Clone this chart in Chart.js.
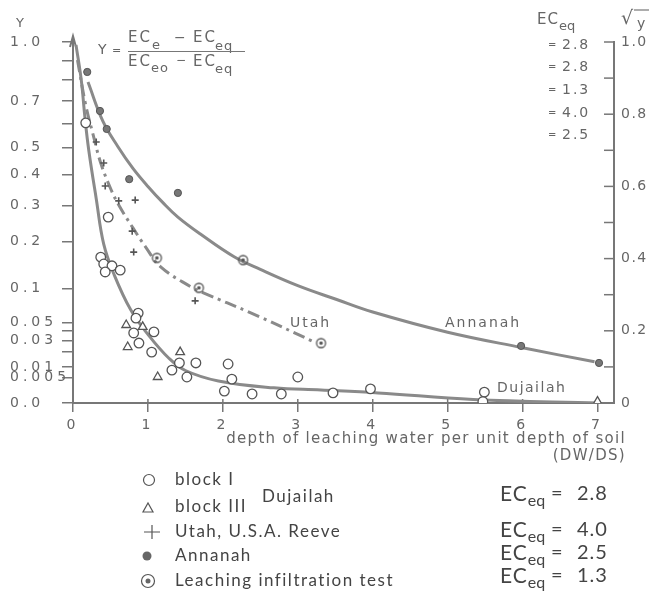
<!DOCTYPE html>
<html><head><meta charset="utf-8">
<script src="https://cdn.jsdelivr.net/npm/chart.js@4/dist/chart.umd.min.js"></script>
<style>html,body{margin:0;padding:0;background:#fff}#wrap{width:649px;height:598px}</style>
</head><body><div id="wrap"><canvas id="c" width="649" height="598"></canvas></div>
<script>
// x = depth of leaching water per unit depth of soil (DW/DS), s = sqrt(Y) (right axis reading)
const blockIX = [0.17,0.47,0.37,0.41,0.52,0.43,0.63,0.87,0.84,0.81,1.08,0.88,1.05,1.42,1.32,1.64,1.52,2.07,2.12,2.02,2.39,2.78,3.00,3.47,3.97,5.49,5.47];
const blockIS = [0.776,0.515,0.404,0.385,0.380,0.363,0.368,0.249,0.235,0.194,0.197,0.166,0.141,0.111,0.091,0.111,0.072,0.108,0.066,0.033,0.025,0.025,0.072,0.028,0.039,0.030,0.004];
const blockIIIX = [0.71,0.93,0.73,1.43,1.13,7.00];
const blockIIIS = [0.216,0.211,0.155,0.141,0.072,0.004];
const utahX = [0.31,0.41,0.43,0.61,0.83,0.79,0.81,1.63];
const utahS = [0.723,0.665,0.601,0.560,0.562,0.476,0.418,0.283];
const annanahX = [0.19,0.36,0.45,0.75,1.40,5.98,7.02];
const annanahS = [0.917,0.809,0.759,0.620,0.582,0.158,0.111];
const leachX = [1.12,1.68,3.31,2.27];
const leachS = [0.402,0.319,0.166,0.396];
// fitted curves
const annCurveX = [0.20,0.40,0.60,0.80,1.00,1.20,1.40,1.70,2.15,2.50,3.00,3.50,4.00,5.00,6.00,6.96];
const annCurveS = [0.889,0.780,0.710,0.650,0.600,0.555,0.515,0.468,0.405,0.370,0.325,0.288,0.252,0.196,0.153,0.114];
const utahCurveX = [0.06,0.17,0.27,0.37,0.51,0.62,0.80,0.97,1.17,1.58,1.74,2.38,3.22];
const utahCurveS = [0.950,0.825,0.742,0.665,0.590,0.545,0.485,0.432,0.377,0.321,0.305,0.249,0.169];
const dujCurveX = [0.04,0.11,0.16,0.21,0.31,0.41,0.55,0.77,1.00,1.28,1.50,1.94,2.68,3.31,4.07,5.34,7.01];
const dujCurveS = [0.992,0.895,0.789,0.701,0.566,0.440,0.355,0.258,0.190,0.124,0.090,0.061,0.042,0.036,0.028,0.010,0.0];
// axes
const xTicks = [0,1,2,3,4,5,6,7];
const leftTickY = [1.0,0.9,0.8,0.7,0.6,0.5,0.4,0.3,0.2,0.1,0.05,0.04,0.03,0.02,0.01,0.005,0];
const leftLabels = ['1.0','','','0.7','','0.5','0.4','0.3','0.2','0.1','0.05','','0.03','','0.01','0.005','0.0'];
const rightTicks = [1.0,0.9,0.8,0.7,0.6,0.5,0.4,0.3,0.2,0.1,0];
const rightLabels = ['1.0','','0.8','','0.6','','0.4','','0.2','','0'];
const topEcValues = ['2.8','2.8','1.3','4.0','2.5'];
const legendLabels = ['block I','block III','Utah, U.S.A. Reeve','Annanah','Leaching infiltration test'];
const legendEc = ['2.8','4.0','2.5','1.3'];
const curveNames = ['Utah','Annanah','Dujailah'];

const pts = (xs, ss) => xs.map((v, i) => ({x: v, y: ss[i]}));
const GRAY = '#666';

function makeDotCircle(r) {
  const c = document.createElement('canvas');
  const s = Math.ceil(r * 2 + 4);
  c.width = s; c.height = s;
  const g = c.getContext('2d');
  g.strokeStyle = '#555'; g.lineWidth = 1.3;
  g.beginPath(); g.arc(s/2, s/2, r, 0, Math.PI*2); g.stroke();
  g.fillStyle = '#555';
  g.beginPath(); g.arc(s/2, s/2, r*0.4, 0, Math.PI*2); g.fill();
  return c;
}
const dotCircle = makeDotCircle(4.5);

function txt(ctx, s, x, y, o) {
  ctx.save();
  ctx.font = o.font || '14px "DejaVu Sans"';
  ctx.fillStyle = o.color || GRAY;
  ctx.textAlign = o.align || 'left';
  ctx.textBaseline = o.baseline || 'middle';
  ctx.letterSpacing = (o.ls || 0) + 'px';
  ctx.fillText(s, x, y);
  const w = ctx.measureText(s).width;
  ctx.restore();
  return w;
}

const annot = {
  id: 'annot',
  beforeDraw(chart) { chart.ctx.letterSpacing = '4px'; },
  beforeDatasetsDraw(chart) {
    const ctx = chart.ctx;
    ctx.letterSpacing = '0px';
    const y2 = chart.scales.y2, x = chart.scales.x;
    ctx.save();
    ctx.strokeStyle = '#777'; ctx.lineWidth = 1.5;
    rightTicks.forEach(v => {
      const py = y2.getPixelForValue(v);
      ctx.beginPath(); ctx.moveTo(x.right - 10, py); ctx.lineTo(x.right, py); ctx.stroke();
    });
    xTicks.forEach(v => {
      const px = x.getPixelForValue(v);
      ctx.beginPath(); ctx.moveTo(px, y2.bottom - 4); ctx.lineTo(px, y2.bottom); ctx.stroke();
    });
    const ax = x.left;
    ctx.lineWidth = 2;
    ctx.beginPath(); ctx.moveTo(ax - 3, 47); ctx.lineTo(ax, 36); ctx.lineTo(ax + 3, 47); ctx.stroke();
    ctx.beginPath(); ctx.moveTo(ax, 36); ctx.lineTo(ax, 44); ctx.stroke();
    ctx.restore();
  },
  afterDraw(chart) {
    const ctx = chart.ctx;
    const y2 = chart.scales.y2;
    const F = (s) => s + 'px "DejaVu Sans"';
    // right axis labels
    rightTicks.forEach((v, i) => {
      if (rightLabels[i]) txt(ctx, rightLabels[i], 621, y2.getPixelForValue(v), {font: F(14), ls: 1.5});
    });
    // Y label
    txt(ctx, 'Y', 16, 24, {font: F(13)});
    // formula
    txt(ctx, 'Y', 98, 50, {font: F(14)});
    txt(ctx, '=', 112, 51, {font: F(11)});
    txt(ctx, 'EC', 128, 38, {font: F(15), ls: 2});
    txt(ctx, 'e', 152, 46, {font: F(13), ls: 1});
    txt(ctx, '\u2212', 174, 38, {font: F(14)});
    txt(ctx, 'EC', 193, 38, {font: F(15), ls: 2});
    txt(ctx, 'eq', 215, 47, {font: F(13), ls: 1});
    ctx.save(); ctx.strokeStyle = '#777'; ctx.lineWidth = 1;
    ctx.beginPath(); ctx.moveTo(128, 51.5); ctx.lineTo(245, 51.5); ctx.stroke(); ctx.restore();
    txt(ctx, 'EC', 128, 62, {font: F(15), ls: 2});
    txt(ctx, 'eo', 151, 69, {font: F(13), ls: 1});
    txt(ctx, '\u2212', 176, 61, {font: F(12)});
    txt(ctx, 'EC', 193, 62, {font: F(15), ls: 2});
    txt(ctx, 'eq', 215, 70, {font: F(13), ls: 1});
    // top right EC_eq list
    const wEC = txt(ctx, 'EC', 537, 20, {font: F(15), ls: 1});
    txt(ctx, 'eq', 537 + wEC, 27, {font: F(13)});
    topEcValues.forEach((v, i) => {
      const yy = [45, 67, 90, 113, 135][i];
      txt(ctx, '=', 548, yy, {font: F(10)});
      txt(ctx, v, 562, yy, {font: F(14), ls: 2});
    });
    // sqrt y
    txt(ctx, '\u221A', 621, 19, {font: F(19)});
    txt(ctx, 'y', 637, 24, {font: F(14)});
    ctx.save(); ctx.strokeStyle = '#777'; ctx.lineWidth = 1.2;
    ctx.beginPath(); ctx.moveTo(634, 10); ctx.lineTo(650, 10); ctx.stroke(); ctx.restore();
    // curve names
    txt(ctx, curveNames[0], 290, 323, {font: F(14), ls: 2});
    txt(ctx, curveNames[1], 445, 323, {font: F(14), ls: 2});
    txt(ctx, curveNames[2], 497, 388, {font: F(14), ls: 1.5});
    // x title
    txt(ctx, 'depth of leaching water per unit depth of soil', 626, 439, {font: F(15), align: 'right', ls: 1.3});
    txt(ctx, '(DW/DS)', 626, 456, {font: F(15), align: 'right', ls: 1.3});
    // legend
    const LF = '17px Lato', LC = '#444';
    const rows = [480, 507, 532, 556, 581];
    legendLabels.forEach((s, i) => txt(ctx, s, 175, rows[i], {font: LF, color: LC, ls: 1.5}));
    txt(ctx, 'Dujailah', 262, 497, {font: LF, color: LC, ls: 1.5});
    ctx.save();
    ctx.strokeStyle = '#555'; ctx.fillStyle = '#666'; ctx.lineWidth = 1.2;
    ctx.beginPath(); ctx.arc(149, 480, 5.5, 0, Math.PI*2); ctx.stroke();
    ctx.beginPath(); ctx.moveTo(143, 512); ctx.lineTo(153, 512); ctx.lineTo(148, 503); ctx.closePath(); ctx.stroke();
    ctx.beginPath(); ctx.moveTo(144, 532); ctx.lineTo(160, 532); ctx.moveTo(152, 525); ctx.lineTo(152, 539); ctx.stroke();
    ctx.beginPath(); ctx.arc(147, 556, 4.5, 0, Math.PI*2); ctx.fill();
    ctx.beginPath(); ctx.arc(148, 581, 6.5, 0, Math.PI*2); ctx.stroke();
    ctx.beginPath(); ctx.arc(148, 581, 2.5, 0, Math.PI*2); ctx.fill();
    ctx.restore();
    const ecRows = [494, 530, 553, 576];
    legendEc.forEach((v, i) => {
      const yy = ecRows[i];
      const w = txt(ctx, 'EC', 500, yy, {font: '21px Lato', color: LC, ls: 1});
      txt(ctx, 'eq', 500 + w, yy + 7, {font: '16px Lato', color: LC});
      txt(ctx, '=', 551, yy, {font: '20px Lato', color: LC});
      txt(ctx, v, 577, yy, {font: '20px Lato', color: LC, ls: 1});
    });
  }
};

const lineDs = (xs, ss, dash) => ({
  type: 'scatter', data: pts(xs, ss), showLine: true, pointRadius: 0,
  borderColor: '#8a8a8a', borderWidth: 3, borderDash: dash || [],
  tension: 0.4, order: 2
});

new Chart(document.getElementById('c'), {
  type: 'scatter',
  data: {
    datasets: [
      lineDs(annCurveX, annCurveS),
      lineDs(utahCurveX, utahCurveS, [12, 5, 3, 5]),
      lineDs(dujCurveX, dujCurveS),
      {label: 'block I', data: pts(blockIX, blockIS), pointStyle: 'circle', pointRadius: 4.8,
       backgroundColor: '#fff', borderColor: '#555', borderWidth: 1.3, order: 1},
      {label: 'block III', data: pts(blockIIIX, blockIIIS), pointStyle: 'triangle', pointRadius: 5,
       backgroundColor: '#fff', borderColor: '#555', borderWidth: 1.3, order: 1},
      {label: 'Utah, U.S.A. Reeve', data: pts(utahX, utahS), pointStyle: 'cross', pointRadius: 3.5,
       borderColor: '#555', borderWidth: 1.6, order: 1},
      {label: 'Annanah', data: pts(annanahX, annanahS), pointStyle: 'circle', pointRadius: 3.6,
       backgroundColor: '#777', borderColor: '#555', borderWidth: 1, order: 1},
      {label: 'Leaching infiltration test', data: pts(leachX, leachS), pointStyle: dotCircle, order: 1}
    ]
  },
  options: {
    responsive: false, animation: false, devicePixelRatio: 1,
    layout: {padding: {left: 10, right: 0, top: 42, bottom: 0}},
    plugins: {legend: {display: false}, tooltip: {enabled: false}},
    scales: {
      x: {
        type: 'linear', min: 0, max: 7.22, position: 'bottom',
        afterBuildTicks: s => { s.ticks = xTicks.map(v => ({value: v})); },
        afterFit: s => { s.height = 195; },
        ticks: {autoSkip: false, maxRotation: 0, padding: 5, color: GRAY,
                font: {family: 'DejaVu Sans', size: 14}, callback: v => String(v)},
        grid: {drawOnChartArea: false, tickLength: 9, color: '#777', lineWidth: 1.5},
        border: {color: '#777', width: 2}
      },
      y: {
        type: 'linear', min: 0, max: 1, position: 'left',
        afterBuildTicks: s => { s.ticks = leftTickY.map(v => ({value: Math.sqrt(v)})); },
        afterFit: s => { s.width = 63; },
        ticks: {autoSkip: false, crossAlign: 'far', color: GRAY,
                font: {family: 'DejaVu Sans', size: 14}, callback: (v, i) => leftLabels[i]},
        grid: {drawOnChartArea: false, tickLength: 11, color: '#777', lineWidth: 1.5},
        border: {color: '#777', width: 2}
      },
      y2: {
        type: 'linear', min: 0, max: 1, position: 'right',
        afterBuildTicks: s => { s.ticks = rightTicks.map(v => ({value: v})); },
        afterFit: s => { s.width = 35; },
        ticks: {display: false},
        grid: {display: true, drawOnChartArea: false, drawTicks: false, tickLength: 0},
        border: {color: '#777', width: 2}
      }
    }
  },
  plugins: [annot]
});
</script></body></html>
